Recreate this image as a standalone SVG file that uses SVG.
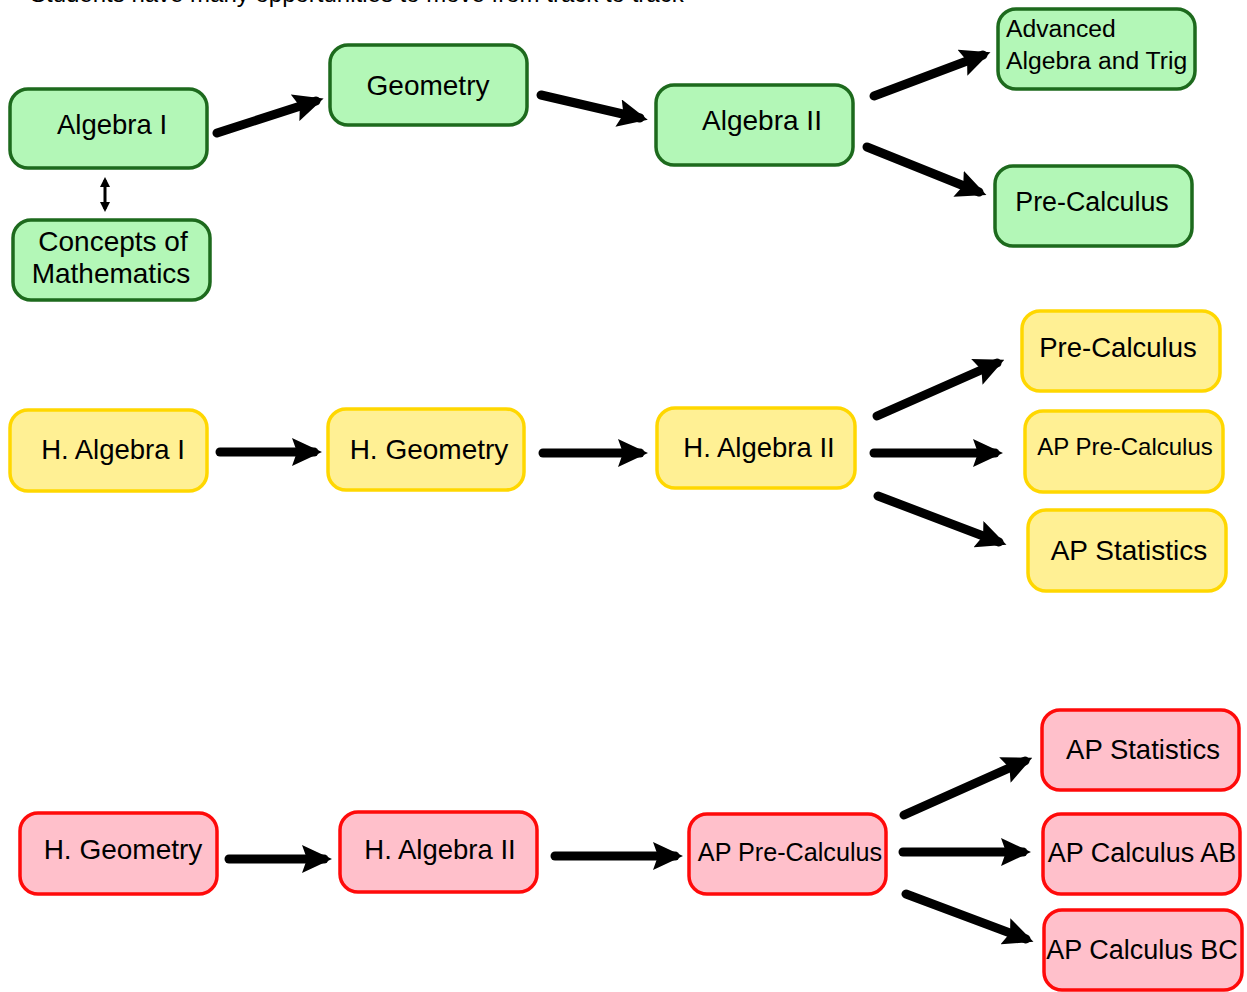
<svg xmlns="http://www.w3.org/2000/svg" width="1247" height="992" viewBox="0 0 1247 992">
<style>
text{font-family:"Liberation Sans",Arial,sans-serif;font-size:27.5px;fill:#000;text-anchor:middle}
.g rect{fill:#b3f7b7;stroke:#1d6a1d;stroke-width:3.5}
.y rect{fill:#fff094;stroke:#ffd700;stroke-width:3.5}
.r rect{fill:#ffc0cb;stroke:#ff0a0a;stroke-width:3.5}
.a{stroke:#000;stroke-width:9;stroke-linecap:round;fill:none;marker-end:url(#ah)}
</style>
<defs>
<marker id="ah" markerUnits="userSpaceOnUse" viewBox="0 0 30 28" markerWidth="30" markerHeight="28" refX="22" refY="14" orient="auto">
<path d="M0,0 L30,14 L0,28 L5,14 Z" fill="#000"/>
</marker>
<marker id="sh" markerUnits="userSpaceOnUse" viewBox="0 0 10 10" markerWidth="10" markerHeight="10" refX="7" refY="5" orient="auto-start-reverse">
<path d="M0,0 L10,5 L0,10 Z" fill="#000"/>
</marker>
</defs>
<text x="30" y="1.5" style="text-anchor:start;font-size:24px">Students have many opportunities to move from track to track</text>

<g id="connectors">
<line class="a" x1="217" y1="133" x2="316" y2="101"/>
<line class="a" x1="541" y1="95" x2="640" y2="118"/>
<line class="a" x1="874" y1="96" x2="983" y2="55"/>
<line class="a" x1="867" y1="147" x2="979" y2="192"/>
<line x1="105" y1="180" x2="105" y2="209" stroke="#000" stroke-width="3" marker-start="url(#sh)" marker-end="url(#sh)"/>
<line class="a" x1="220" y1="452" x2="314" y2="452"/>
<line class="a" x1="543" y1="453" x2="640" y2="453"/>
<line class="a" x1="877" y1="416" x2="997" y2="363"/>
<line class="a" x1="874" y1="453" x2="995" y2="453"/>
<line class="a" x1="878" y1="496" x2="999" y2="542"/>
<line class="a" x1="229" y1="859" x2="324" y2="859"/>
<line class="a" x1="555" y1="856" x2="675" y2="856"/>
<line class="a" x1="904" y1="815" x2="1025" y2="761"/>
<line class="a" x1="903" y1="852" x2="1023" y2="852"/>
<line class="a" x1="906" y1="894" x2="1026" y2="939"/>
</g>

<g id="n-algebra1" class="g"><rect x="10" y="89" width="197" height="79" rx="18"/><text x="112" y="134">Algebra I</text></g>
<g id="n-concepts" class="g"><rect x="13" y="220" width="197" height="80" rx="18"/><text x="113" y="251" style="font-size:28px">Concepts of</text><text x="111" y="283" style="font-size:28px">Mathematics</text></g>
<g id="n-geometry" class="g"><rect x="330" y="45" width="197" height="80" rx="18"/><text x="428" y="95" style="font-size:28px">Geometry</text></g>
<g id="n-algebra2" class="g"><rect x="656" y="85" width="197" height="80" rx="18"/><text x="762" y="130" style="font-size:28px">Algebra II</text></g>
<g id="n-advanced" class="g"><rect x="998" y="9" width="197" height="80" rx="18"/><text x="1006" y="37" style="text-anchor:start;font-size:24.7px">Advanced</text><text x="1006" y="69" style="text-anchor:start;font-size:24.7px">Algebra and Trig</text></g>
<g id="n-precalc-g" class="g"><rect x="995" y="166" width="197" height="80" rx="18"/><text x="1092" y="211" style="font-size:26.8px">Pre-Calculus</text></g>

<g id="n-halg1-y" class="y"><rect x="10" y="410" width="197" height="81" rx="18"/><text x="113" y="459">H. Algebra I</text></g>
<g id="n-hgeom-y" class="y"><rect x="328" y="409" width="196" height="81" rx="18"/><text x="429" y="459" style="font-size:28px">H. Geometry</text></g>
<g id="n-halg2-y" class="y"><rect x="657" y="408" width="198" height="80" rx="18"/><text x="759" y="457">H. Algebra II</text></g>
<g id="n-precalc-y" class="y"><rect x="1022" y="311" width="198" height="80" rx="18"/><text x="1118" y="357">Pre-Calculus</text></g>
<g id="n-appre-y" class="y"><rect x="1025" y="411" width="198" height="81" rx="18"/><text x="1125" y="455" style="font-size:24px">AP Pre-Calculus</text></g>
<g id="n-apstat-y" class="y"><rect x="1028" y="510" width="198" height="81" rx="18"/><text x="1129" y="560" style="font-size:28px">AP Statistics</text></g>

<g id="n-hgeom-r" class="r"><rect x="20" y="813" width="197" height="81" rx="18"/><text x="123" y="859" style="font-size:28px">H. Geometry</text></g>
<g id="n-halg2-r" class="r"><rect x="340" y="812" width="197" height="80" rx="18"/><text x="440" y="859">H. Algebra II</text></g>
<g id="n-appre-r" class="r"><rect x="689" y="814" width="197" height="80" rx="18"/><text x="790" y="861" style="font-size:25.2px">AP Pre-Calculus</text></g>
<g id="n-apstat-r" class="r"><rect x="1042" y="710" width="197" height="80" rx="18"/><text x="1143" y="759">AP Statistics</text></g>
<g id="n-apab-r" class="r"><rect x="1043" y="814" width="197" height="80" rx="18"/><text x="1142" y="862" style="font-size:27px">AP Calculus AB</text></g>
<g id="n-apbc-r" class="r"><rect x="1044" y="910" width="198" height="80" rx="18"/><text x="1142" y="959" style="font-size:27px">AP Calculus BC</text></g>
</svg>
